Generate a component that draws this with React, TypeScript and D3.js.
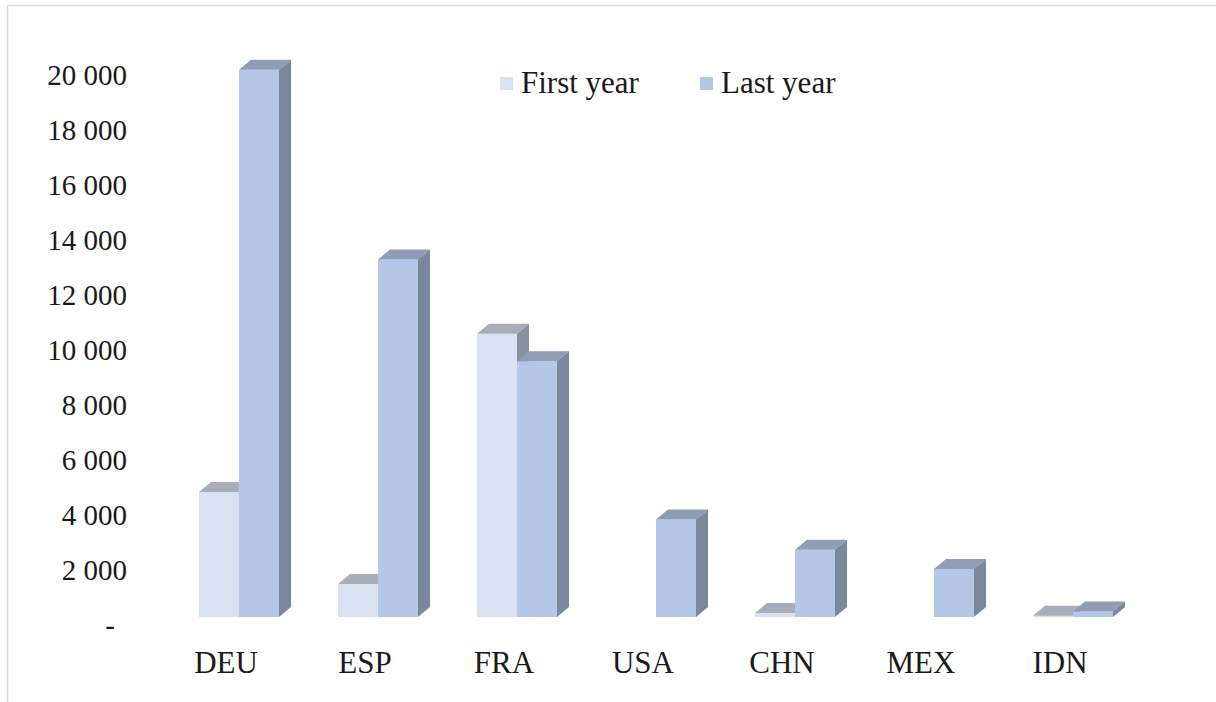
import React from 'react';
import * as d3 from 'd3';

const categories = ['DEU', 'ESP', 'FRA', 'USA', 'CHN', 'MEX', 'IDN'];
const firstYear = [4550, 1200, 10300, 0, 150, 0, 50];
const lastYear = [19900, 13000, 9300, 3550, 2450, 1750, 200];
const seriesNames = ['First year', 'Last year'];
const yTicks = [0, 2000, 4000, 6000, 8000, 10000, 12000, 14000, 16000, 18000, 20000];

const width = 1216;
const height = 702;

// face colours per series: front, top, side
const palette = [
  { front: '#dae1f0', top: '#a8aeb9', side: '#8a919e' },
  { front: '#b4c7e7', top: '#909db5', side: '#7a879d' },
];

const fmt = d3
  .formatLocale({ thousands: ' ', grouping: [3], decimal: '.', currency: ['', ''] })
  .format(',d');

export default function App() {
  const depthX = 12;
  const depthY = 10;
  const barW = 40;

  const x0 = d3.scaleBand<string>().domain(categories).range([169.5, 1142.5]);
  const x1 = d3.scaleBand<string>().domain(seriesNames).range([0, barW * 2]);
  const y = d3.scaleLinear().domain([0, 20000]).range([617, 67]);
  const base = y(0);

  const series = [firstYear, lastYear];
  const font = '"Liberation Serif", "Times New Roman", serif';

  const bars: React.ReactNode[] = [];
  categories.forEach((cat, ci) => {
    series.forEach((vals, si) => {
      const v = vals[ci];
      if (!v) return;
      const x = (x0(cat) as number) + (x0.bandwidth() - barW * 2) / 2 + (x1(seriesNames[si]) as number);
      const top = y(v);
      const c = palette[si];
      bars.push(
        <g key={cat + si}>
          <rect x={x} y={top} width={barW} height={base - top} fill={c.front} />
          <polygon
            points={`${x},${top} ${x + barW},${top} ${x + barW + depthX},${top - depthY} ${x + depthX},${top - depthY}`}
            fill={c.top}
          />
          <polygon
            points={`${x + barW},${top} ${x + barW + depthX},${top - depthY} ${x + barW + depthX},${base - depthY} ${x + barW},${base}`}
            fill={c.side}
          />
        </g>
      );
    });
  });

  return (
    <svg
      width={width}
      height={height}
      style={{ position: 'absolute', left: 0, top: 0, background: '#fff' }}
      fontFamily={font}
    >
      <rect x={7.5} y={5.5} width={1400} height={900} fill="none" stroke="#d9d9d9" strokeWidth={1.5} />

      {/* y axis labels */}
      {yTicks.map(t => (
        <text
          key={t}
          x={t === 0 ? 115 : 127}
          y={y(t) + 18}
          textAnchor="end"
          fontSize={29}
          fill="#1a1a1a"
        >
          {t === 0 ? '-' : fmt(t)}
        </text>
      ))}

      {bars}

      {/* category labels */}
      {categories.map(cat => (
        <text
          key={cat}
          x={(x0(cat) as number) + x0.bandwidth() / 2 - 13}
          y={673}
          textAnchor="middle"
          fontSize={31}
          fill="#1a1a1a"
        >
          {cat}
        </text>
      ))}

      {/* legend */}
      {seriesNames.map((name, i) => {
        const lx = [500, 700][i];
        return (
          <g key={name}>
            <rect x={lx} y={77} width={13} height={13} fill={palette[i].front} />
            <text x={lx + 21} y={93} fontSize={31} fill="#1a1a1a">
              {name}
            </text>
          </g>
        );
      })}
    </svg>
  );
}
